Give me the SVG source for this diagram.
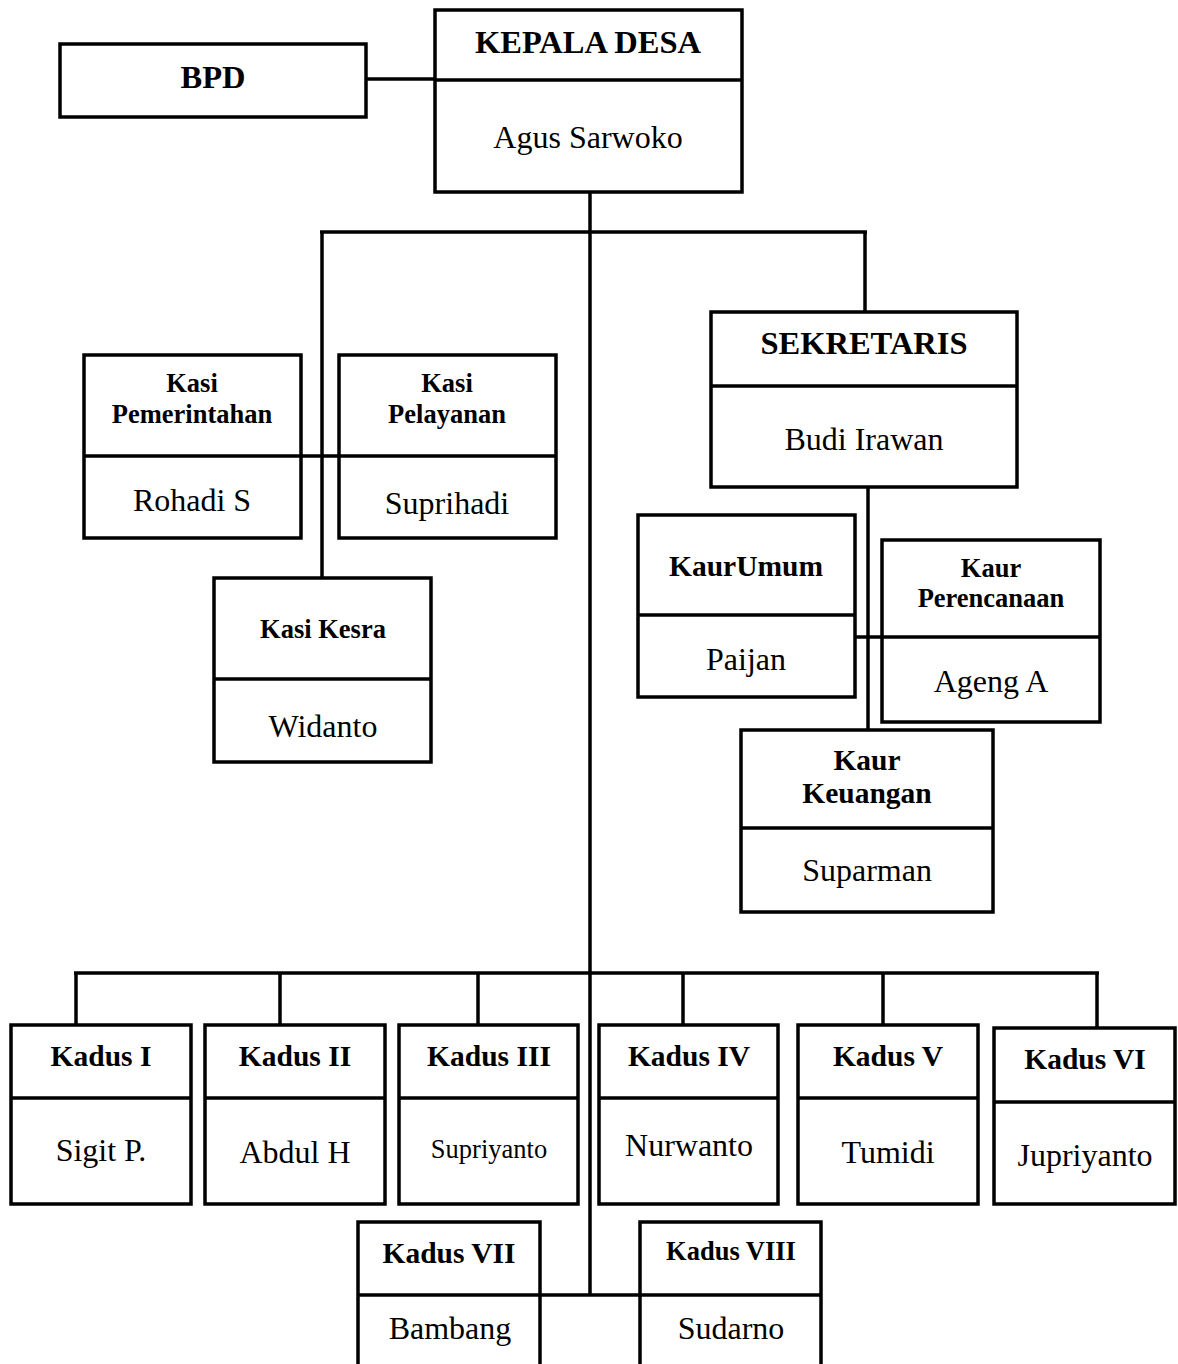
<svg xmlns="http://www.w3.org/2000/svg" width="1178" height="1364" viewBox="0 0 1178 1364">
<style>
rect{fill:#fff;stroke:#000;stroke-width:3.5}
line.d{stroke:#000;stroke-width:3.5}
#connectors line{stroke:#000;stroke-width:3.5}
text{font-family:"Liberation Serif","Times New Roman",serif;text-anchor:middle;fill:#000}
.h{font-weight:bold;font-size:29.5px}
.hl{font-weight:bold;font-size:32.5px}
.hs{font-weight:bold;font-size:26.5px}
.n{font-size:32px}
.ns{font-size:26.5px}
</style>
<rect x="0" y="0" width="1178" height="1364" style="fill:#fff;stroke:none"/>
<g id="connectors">
<line x1="366" y1="79" x2="435" y2="79"/>
<line x1="590" y1="192" x2="590" y2="1295"/>
<line x1="320" y1="232" x2="867" y2="232"/>
<line x1="322" y1="232" x2="322" y2="578"/>
<line x1="865" y1="232" x2="865" y2="312"/>
<line x1="301" y1="456" x2="339" y2="456"/>
<line x1="868" y1="487" x2="868" y2="730"/>
<line x1="855" y1="637" x2="882" y2="637"/>
<line x1="74" y1="973" x2="1099" y2="973"/>
<line x1="76" y1="973" x2="76" y2="1025"/>
<line x1="280" y1="973" x2="280" y2="1025"/>
<line x1="478" y1="973" x2="478" y2="1025"/>
<line x1="683" y1="973" x2="683" y2="1025"/>
<line x1="883" y1="973" x2="883" y2="1025"/>
<line x1="1097" y1="973" x2="1097" y2="1028"/>
<line x1="540" y1="1295" x2="640" y2="1295"/>
</g>
<g id="bpd">
<rect x="60" y="44" width="306" height="73"/>
<text x="213" y="88" class="hl">BPD</text>
</g>
<g id="kepala-desa">
<rect x="435" y="10" width="307" height="182"/>
<line class="d" x1="435" y1="80" x2="742" y2="80"/>
<text x="588" y="53" class="hl">KEPALA DESA</text>
<text x="588" y="148" class="n">Agus Sarwoko</text>
</g>
<g id="kasi-pemerintahan">
<rect x="84" y="355" width="217" height="183"/>
<line class="d" x1="84" y1="456" x2="301" y2="456"/>
<text x="192" y="392" class="hs">Kasi</text>
<text x="192" y="423" class="hs">Pemerintahan</text>
<text x="192" y="511" class="n">Rohadi S</text>
</g>
<g id="kasi-pelayanan">
<rect x="339" y="355" width="217" height="183"/>
<line class="d" x1="339" y1="456" x2="556" y2="456"/>
<text x="447" y="392" class="hs">Kasi</text>
<text x="447" y="423" class="hs">Pelayanan</text>
<text x="447" y="514" class="n">Suprihadi</text>
</g>
<g id="kasi-kesra">
<rect x="214" y="578" width="217" height="184"/>
<line class="d" x1="214" y1="679" x2="431" y2="679"/>
<text x="323" y="638" class="hs">Kasi Kesra</text>
<text x="323" y="737" class="n">Widanto</text>
</g>
<g id="sekretaris">
<rect x="711" y="312" width="306" height="175"/>
<line class="d" x1="711" y1="386" x2="1017" y2="386"/>
<text x="864" y="354" class="hl">SEKRETARIS</text>
<text x="864" y="450" class="n">Budi Irawan</text>
</g>
<g id="kaur-umum">
<rect x="638" y="515" width="217" height="182"/>
<line class="d" x1="638" y1="615" x2="855" y2="615"/>
<text x="746" y="576" class="h">KaurUmum</text>
<text x="746" y="670" class="n">Paijan</text>
</g>
<g id="kaur-perencanaan">
<rect x="882" y="540" width="218" height="182"/>
<line class="d" x1="882" y1="637" x2="1100" y2="637"/>
<text x="991" y="577" class="hs">Kaur</text>
<text x="991" y="607" class="hs">Perencanaan</text>
<text x="991" y="692" class="n">Ageng A</text>
</g>
<g id="kaur-keuangan">
<rect x="741" y="730" width="252" height="182"/>
<line class="d" x1="741" y1="828" x2="993" y2="828"/>
<text x="867" y="770" class="h">Kaur</text>
<text x="867" y="803" class="h">Keuangan</text>
<text x="867" y="881" class="n">Suparman</text>
</g>
<g id="kadus-1">
<rect x="11" y="1025" width="180" height="179"/>
<line class="d" x1="11" y1="1098" x2="191" y2="1098"/>
<text x="101" y="1066" class="h">Kadus I</text>
<text x="101" y="1161" class="n">Sigit P.</text>
</g>
<g id="kadus-2">
<rect x="205" y="1025" width="180" height="179"/>
<line class="d" x1="205" y1="1098" x2="385" y2="1098"/>
<text x="295" y="1066" class="h">Kadus II</text>
<text x="295" y="1163" class="n">Abdul H</text>
</g>
<g id="kadus-3">
<rect x="399" y="1025" width="179" height="179"/>
<line class="d" x1="399" y1="1098" x2="578" y2="1098"/>
<text x="489" y="1066" class="h">Kadus III</text>
<text x="489" y="1158" class="ns">Supriyanto</text>
</g>
<g id="kadus-4">
<rect x="599" y="1025" width="179" height="179"/>
<line class="d" x1="599" y1="1098" x2="778" y2="1098"/>
<text x="689" y="1066" class="h">Kadus IV</text>
<text x="689" y="1156" class="n">Nurwanto</text>
</g>
<g id="kadus-5">
<rect x="798" y="1025" width="180" height="179"/>
<line class="d" x1="798" y1="1098" x2="978" y2="1098"/>
<text x="888" y="1066" class="h">Kadus V</text>
<text x="888" y="1163" class="n">Tumidi</text>
</g>
<g id="kadus-6">
<rect x="994" y="1028" width="181" height="176"/>
<line class="d" x1="994" y1="1102" x2="1175" y2="1102"/>
<text x="1085" y="1069" class="h">Kadus VI</text>
<text x="1085" y="1166" class="n">Jupriyanto</text>
</g>
<g id="kadus-7">
<rect x="358" y="1222" width="182" height="150"/>
<line class="d" x1="358" y1="1295" x2="540" y2="1295"/>
<text x="449" y="1263" class="h">Kadus VII</text>
<text x="450" y="1339" class="n">Bambang</text>
</g>
<g id="kadus-8">
<rect x="640" y="1222" width="181" height="150"/>
<line class="d" x1="640" y1="1295" x2="821" y2="1295"/>
<text x="731" y="1260" class="hs">Kadus VIII</text>
<text x="731" y="1339" class="n">Sudarno</text>
</g>
</svg>
